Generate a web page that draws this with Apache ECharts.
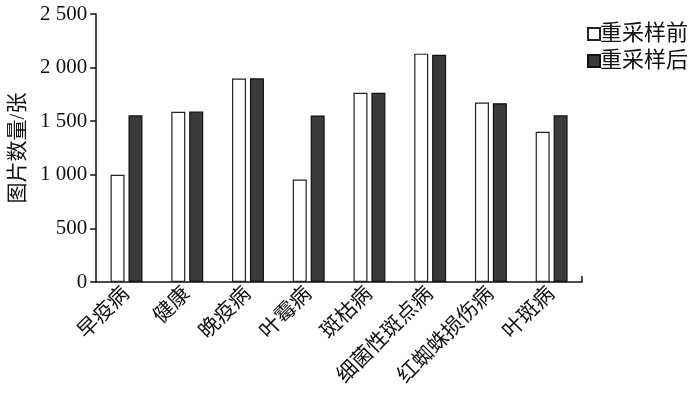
<!DOCTYPE html>
<html>
<head>
<meta charset="utf-8">
<script src="https://cdn.jsdelivr.net/npm/echarts@6/dist/echarts.min.js"></script>
<style>
  html, body { margin: 0; padding: 0; background: #fff; }
  #main { width: 700px; height: 404px; }
</style>
</head>
<body>
<div id="main"></div>
<script>
// 数据
var categories = ['早疫病', '健康', '晚疫病', '叶霉病', '斑枯病', '细菌性斑点病', '红蜘蛛损伤病', '叶斑病'];
var before = [1000, 1588, 1898, 955, 1766, 2130, 1675, 1402];
var after = [1555, 1590, 1900, 1553, 1766, 2120, 1668, 1555];
var seriesNames = ['重采样前', '重采样后'];

var serif = '"Liberation Serif", "Noto Sans CJK SC", serif';
var myChart = echarts.init(document.getElementById('main'));
var option = {
    animation: false,
    backgroundColor: '#fff',
    legend: {
        orient: 'vertical',
        left: 582,
        top: 17,
        itemWidth: 12,
        itemHeight: 12,
        itemGap: 3,
        icon: 'rect',
        textStyle: { fontFamily: serif, fontSize: 22, lineHeight: 24, color: '#111', padding: [0, 0, 0, -5] },
        data: seriesNames
    },
    grid: { left: 91, right: 118, top: 14, bottom: 122 },
    xAxis: {
        type: 'category',
        data: categories,
        axisLine: { lineStyle: { color: '#111', width: 1.5 } },
        axisTick: { show: false },
        axisLabel: {
            rotate: 45,
            interval: 0,
            margin: 9,
            fontFamily: serif,
            fontSize: 21,
            color: '#111'
        }
    },
    yAxis: {
        type: 'value',
        min: 0,
        max: 2500,
        interval: 500,
        name: '图片数量/张',
        nameLocation: 'middle',
        nameGap: 64,
        nameTextStyle: { fontFamily: serif, fontSize: 21, color: '#111' },
        splitLine: { show: false },
        axisLine: { show: true, lineStyle: { color: '#111', width: 1.5 } },
        axisTick: { show: true, length: 6, lineStyle: { color: '#111', width: 1.5 } },
        axisLabel: {
            margin: 9,
            fontFamily: serif,
            fontSize: 21,
            color: '#111',
            formatter: function (v) {
                return v >= 1000 ? Math.floor(v / 1000) + ' ' + String(v % 1000).padStart(3, '0') : String(v);
            }
        }
    },
    series: [
        {
            name: seriesNames[0],
            type: 'bar',
            data: before,
            barWidth: 14,
            barGap: '28%',
            itemStyle: { color: '#fff', borderColor: '#222', borderWidth: 1.2 }
        },
        {
            name: seriesNames[1],
            type: 'bar',
            data: after,
            barWidth: 14,
            barGap: '28%',
            itemStyle: { color: '#3b3b3b', borderColor: '#111', borderWidth: 1.2 }
        }
    ]
};
myChart.setOption(option);

// x 轴右端的小刻度
var rect = myChart.getModel().getComponent('grid').coordinateSystem.getRect();
myChart.setOption({
    graphic: [{
        type: 'line',
        shape: { x1: rect.x + rect.width, y1: rect.y + rect.height, x2: rect.x + rect.width, y2: rect.y + rect.height - 6 },
        style: { stroke: '#111', lineWidth: 1.5 }
    }]
});
</script>
</body>
</html>
